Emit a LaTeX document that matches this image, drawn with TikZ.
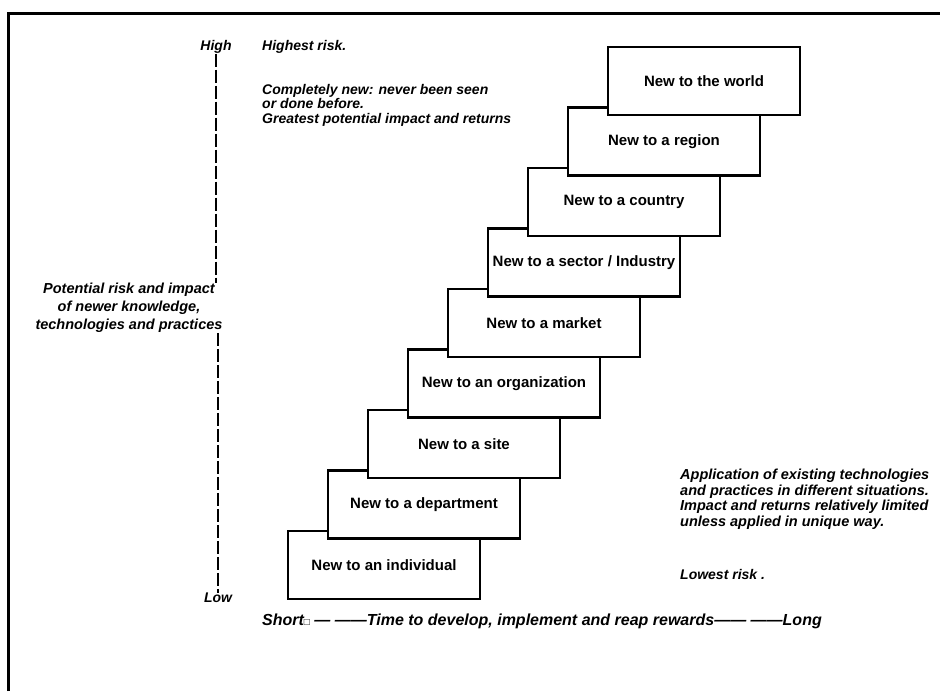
\documentclass[tikz,border=0pt]{standalone}
\usepackage{fontspec}
\setmainfont{Liberation Sans}
\newfontfamily\symfont{DejaVu Sans}
\begin{document}
\begin{tikzpicture}[x=1pt,y=1pt,
    stepbox/.style={draw,line width=2.8pt,fill=white,minimum width=192pt,minimum height=68pt,
      inner sep=2pt,font=\fontsize{15}{16}\selectfont\bfseries},
    note/.style={font=\fontsize{14}{14.5}\selectfont\bfseries\itshape,inner sep=0pt},
    axisline/.style={line width=2pt,dash pattern=on 13pt off 3pt}]
    \useasboundingbox (0,0) rectangle (940,-691);
    \draw[line width=3pt] (8,-691)--(8,-13)--(940,-13);
    \foreach \i/\txt in {0/New to an individual,1/New to a department,2/New to a site,
        3/New to an organization,4/New to a market,5/{New to a sector / Industry},
        6/New to a country,7/New to a region,8/New to the world} {
      \node[stepbox] (s\i) at (384+40*\i,-565+60.5*\i) {\txt};
    };
    \node[note] (high) at (216,-47) {High};
    \node[note] (low) at (218,-598) {Low};
    \node[note,anchor=west] (highest) at (262,-47) {Highest risk.};
    \node[note,anchor=north west,align=left] (newest) at (262,-84)
      {Completely new: never been seen\\or done before.\\Greatest potential impact and returns};
    \node[note,align=center,font=\fontsize{14.5}{18}\selectfont\bfseries\itshape] (risk) at (129,-308)
      {Potential risk and impact\\of newer knowledge,\\technologies and practices};
    \node[note,anchor=north west,align=left,font=\fontsize{14.5}{15.5}\selectfont\bfseries\itshape] (existing) at (680,-469)
      {Application of existing technologies\\and practices in different situations.\\Impact and returns relatively limited\\unless applied in unique way.};
    \node[note,anchor=west] (lowest) at (680,-574) {Lowest risk .};
    \node[note,font=\fontsize{16}{16}\selectfont\bfseries\itshape] (time) at (542,-621)
      {Short{\symfont\normalfont\fontsize{10}{10}\selectfont □} — ——Time to develop, implement and reap rewards—— ——Long};
    \draw[axisline] (high.south) -- (high.south |- risk.north);
    \draw[axisline] (low.north |- risk.south) -- (low.north);
%    \node at (542,-650) {};
\end{tikzpicture}
\end{document}
